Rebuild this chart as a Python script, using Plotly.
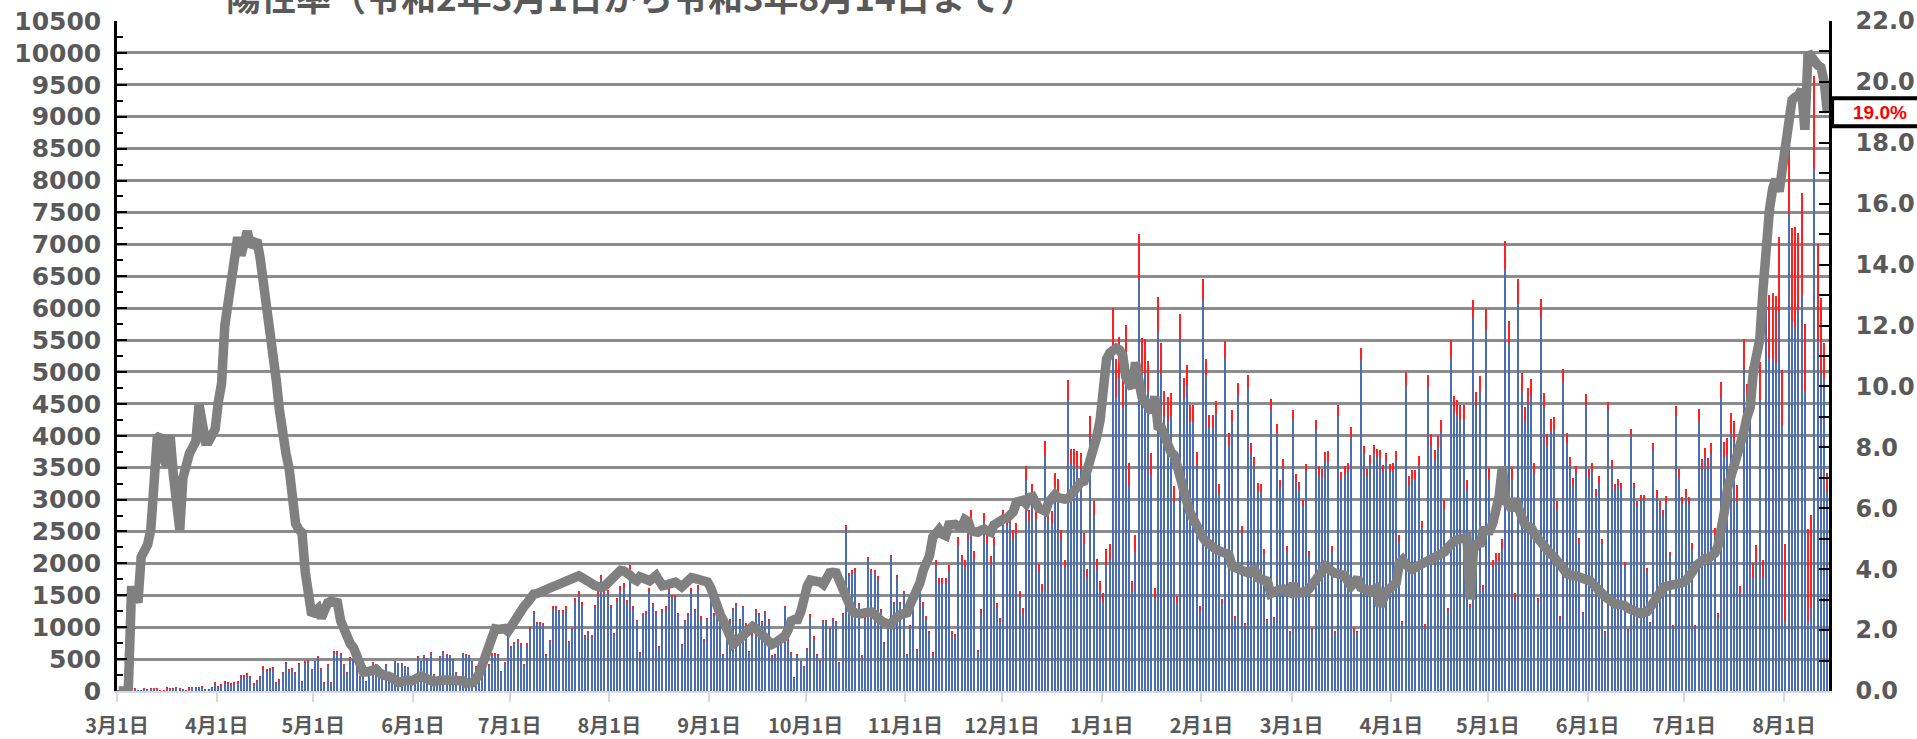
import pandas as pd
import plotly.graph_objects as go

# Daily PCR test counts (one row per week, Sunday to Saturday), from 2020-03-01
tests = [
    5, 20, 25, 15, 30, 35, 10,
    5, 40, 30, 45, 35, 40, 15,
    10, 50, 45, 40, 55, 45, 20,
    15, 50, 60, 55, 60, 65, 30,
    20, 60, 130, 78, 104, 156, 130,
    120, 140, 156, 245, 245, 286, 234,
    120, 172, 234, 390, 350, 365, 380,
    130, 182, 300, 453, 350, 365, 297,
    432, 156, 470, 485, 340, 470, 536,
    350, 130, 417, 140, 625, 625, 590,
    417, 286, 520, 495, 417, 234, 340,
    156, 312, 443, 417, 390, 286, 417,
    208, 182, 470, 432, 432, 390, 365,
    182, 234, 547, 470, 557, 505, 600,
    260, 208, 547, 625, 573, 557, 495,
    286, 182, 590, 568, 557, 470, 390,
    260, 286, 432, 417, 590, 580, 568,
    312, 453, 870, 703, 755, 807, 755,
    417, 755, 1005, 1250, 1078, 1078, 1068,
    573, 807, 1328, 1340, 1276, 1266, 1328,
    781, 990, 1460, 1560, 1400, 885, 940,
    885, 1350, 1560, 1820, 1580, 1590, 1350,
    910, 1460, 1640, 1690, 1430, 1980, 1330,
    1120, 610, 1220, 1250, 1610, 1380, 1260,
    710, 1280, 1330, 1610, 1510, 1510, 1230,
    740, 1120, 1220, 1610, 1290, 1660, 1170,
    810, 1150, 1560, 1220, 1170, 1300, 570,
    1120, 1120, 1300, 1370, 1120, 1330, 1070,
    625, 910, 1290, 1220, 1090, 1250, 1120,
    550, 570, 730, 885, 1330, 810, 610,
    210, 570, 470, 390, 680, 1200, 860,
    570, 480, 1120, 1120, 990, 1150, 1090,
    450, 1230, 2600, 1850, 1900, 1930, 1380,
    550, 1170, 2100, 1910, 1900, 1800, 1280,
    755, 1015, 2135, 1400, 1820, 1400, 1560,
    570, 1040, 1430, 660, 1640, 1400, 1170,
    940, 610, 2060, 1770, 1770, 1770, 1980,
    940, 900, 2420, 2135, 2060, 2500, 2840,
    2190, 650, 1280, 2790, 2450, 2110, 2420,
    1380, 1150, 2840, 2760, 2790, 2530, 2630,
    1560, 1300, 3520, 2840, 3250, 2870, 1985,
    1670, 3920, 2850, 2820, 3420, 3330, 2530,
    2060, 4870, 3800, 3800, 3760, 3730, 2480,
    1905, 4310, 2980, 2070, 1720, 1540, 2220,
    2310, 6000, 5200, 5550, 4990, 5730, 3580,
    1720, 2450, 7160, 5530, 5510, 5170, 3730,
    1620, 6170, 5450, 4700, 4600, 4670, 3210,
    1490, 5910, 4910, 5110, 4480, 4490, 3750,
    1330, 6460, 5200, 4330, 4330, 4550, 3240,
    1435, 5480, 4040, 4410, 1175, 4820, 2585,
    1070, 4945, 3880, 3670, 3260, 3240, 2230,
    1130, 4570, 1160, 4180, 3300, 3640, 2270,
    940, 4410, 3400, 3270, 2990, 3550, 2190,
    990, 4245, 3520, 3480, 3740, 3760, 2270,
    940, 4480, 3440, 3520, 3570, 4130, 980,
    940, 5370, 3840, 3480, 3700, 3860, 3790,
    3780, 3540, 3730, 3550, 3570, 3760, 2440,
    1100, 5000, 3370, 3460, 3470, 3690, 2660,
    1045, 4960, 4020, 3780, 3990, 4250, 2990,
    1305, 5500, 4620, 4555, 4490, 4490, 3310,
    1365, 6130, 4690, 4940, 1665, 5985, 3500,
    2050, 2170, 2170, 2385, 7060, 5800, 3510,
    1530, 6450, 4990, 4455, 4755, 4890, 3580,
    1465, 6150, 4670, 4030, 4265, 4300, 2975,
    1175, 5040, 4050, 3660, 3345, 3530, 2405,
    1245, 4655, 3480, 3580, 3165, 3365, 2385,
    945, 4535, 3615, 3245, 3325, 3260, 2020,
    975, 4105, 3260, 2975, 3065, 3065, 1935,
    1080, 3885, 3145, 2975, 2840, 3055, 2185,
    1030, 4470, 3480, 3045, 3160, 3045, 2320,
    1030, 4420, 3635, 3815, 3650, 3885, 2560,
    1215, 4840, 3905, 3970, 4355, 4230, 3225,
    1645, 5515, 4805, 5070, 2000, 2285, 5160,
    2050, 7290, 6200, 6235, 6185, 7110, 5025,
    2305, 8500, 7255, 7275, 7175, 7800, 5750,
    2540, 2755, 9640, 7005, 6165, 5450, 3415,
]

# Daily positive results (part of each day's tests)
positives = [
    0, 0, 0, 0, 1, 1, 0,
    0, 2, 1, 2, 2, 3, 1,
    1, 4, 4, 3, 3, 2, 1,
    1, 4, 5, 5, 6, 6, 2,
    2, 5, 11, 7, 11, 19, 17,
    16, 20, 23, 35, 37, 43, 34,
    18, 25, 33, 53, 44, 43, 41,
    13, 17, 25, 35, 26, 23, 16,
    23, 8, 18, 16, 9, 12, 14,
    8, 4, 12, 4, 18, 18, 14,
    8, 5, 8, 7, 5, 2, 2,
    1, 2, 3, 3, 2, 1, 2,
    1, 1, 2, 1, 1, 1, 1,
    1, 1, 2, 2, 2, 2, 2,
    1, 1, 2, 2, 2, 2, 2,
    1, 1, 2, 1, 1, 1, 2,
    1, 2, 5, 7, 12, 12, 11,
    6, 9, 17, 15, 18, 21, 20,
    12, 22, 31, 40, 34, 35, 35,
    19, 27, 46, 46, 45, 45, 48,
    28, 36, 54, 59, 52, 33, 34,
    31, 47, 53, 62, 54, 56, 50,
    34, 56, 65, 67, 56, 75, 49,
    41, 23, 45, 46, 58, 51, 48,
    26, 44, 46, 56, 53, 54, 43,
    25, 39, 44, 60, 48, 61, 42,
    29, 41, 53, 37, 32, 33, 13,
    23, 20, 20, 22, 19, 25, 21,
    13, 19, 26, 24, 20, 21, 18,
    8, 9, 12, 15, 24, 16, 14,
    5, 13, 12, 12, 23, 44, 31,
    21, 17, 39, 41, 38, 45, 42,
    16, 41, 81, 53, 50, 49, 35,
    14, 30, 54, 49, 48, 42, 29,
    17, 22, 47, 33, 45, 35, 40,
    15, 30, 44, 22, 58, 55, 50,
    42, 31, 107, 94, 91, 90, 108,
    51, 49, 131, 115, 116, 139, 149,
    114, 34, 68, 148, 129, 110, 132,
    77, 65, 160, 156, 160, 149, 163,
    97, 81, 216, 180, 207, 175, 119,
    99, 231, 177, 180, 221, 211, 159,
    130, 307, 245, 253, 254, 256, 171,
    137, 328, 237, 173, 153, 151, 242,
    256, 672, 586, 622, 551, 590, 362,
    171, 264, 712, 534, 523, 483, 341,
    157, 536, 471, 395, 368, 367, 249,
    109, 408, 319, 317, 262, 251, 201,
    69, 325, 255, 207, 204, 212, 149,
    65, 248, 181, 181, 48, 193, 102,
    42, 192, 153, 146, 121, 120, 82,
    41, 146, 38, 139, 110, 122, 75,
    30, 155, 109, 105, 96, 116, 74,
    34, 155, 134, 137, 153, 150, 89,
    36, 171, 131, 133, 129, 142, 35,
    35, 183, 128, 114, 121, 129, 128,
    105, 110, 122, 119, 123, 133, 102,
    47, 208, 136, 138, 141, 152, 111,
    44, 211, 173, 166, 179, 192, 136,
    61, 267, 227, 226, 224, 225, 167,
    41, 282, 230, 235, 88, 315, 184,
    113, 129, 139, 176, 441, 354, 209,
    97, 381, 285, 244, 257, 262, 184,
    73, 301, 222, 186, 192, 190, 128,
    49, 202, 156, 138, 126, 133, 89,
    46, 170, 127, 125, 107, 111, 76,
    29, 136, 106, 93, 95, 93, 57,
    27, 109, 85, 76, 78, 79, 51,
    30, 113, 97, 98, 97, 105, 76,
    36, 155, 122, 108, 114, 114, 90,
    42, 186, 157, 166, 159, 172, 116,
    58, 252, 230, 265, 305, 312, 248,
    132, 469, 432, 472, 210, 258, 596,
    271, 1086, 980, 1029, 1039, 1166, 859,
    1210, 1020, 1460, 1580, 1200, 1600, 1050,
    1445, 1458, 1460, 1510, 1175, 560, 300,
]

# Positivity rate (%), right axis
positivity = [
    0, 0, 0, 0, 3.3, 3.3, 2.9,
    4.4, 4.6, 4.8, 5.3, 6.9, 8.3, 8.4,
    7.6, 7.4, 8.4, 7.1, 6.2, 5.3, 7.0,
    7.5, 7.8, 8.0, 8.2, 9.4, 8.8, 8.2,
    8.2, 8.4, 8.6, 9.5, 10.1, 12.0, 12.8,
    13.6, 14.4, 14.9, 14.3, 14.9, 15.1, 14.6,
    14.7, 14.8, 14.2, 13.5, 12.6, 11.9, 10.9,
    10.2, 9.2, 8.2, 7.8, 7.3, 6.4, 5.5,
    5.3, 5.2, 3.9, 3.2, 2.5, 2.6, 2.7,
    2.4, 2.7, 2.9, 2.95, 2.95, 2.9, 2.3,
    2.0, 1.7, 1.55, 1.42, 1.1, 0.9, 0.62,
    0.62, 0.66, 0.68, 0.71, 0.6, 0.52, 0.5,
    0.48, 0.45, 0.36, 0.28, 0.32, 0.38, 0.36,
    0.33, 0.4, 0.45, 0.49, 0.44, 0.38, 0.3,
    0.3, 0.33, 0.36, 0.38, 0.37, 0.36, 0.37,
    0.38, 0.36, 0.33, 0.25, 0.22, 0.27, 0.4,
    0.55, 0.85, 1.2, 1.58, 1.95, 2.04, 2.02,
    2.05, 2.05, 1.96, 2.15, 2.35, 2.55, 2.68,
    2.78, 2.9, 3.12, 3.18, 3.2, 3.23, 3.28,
    3.34, 3.39, 3.43, 3.47, 3.52, 3.56, 3.61,
    3.62, 3.68, 3.72, 3.78, 3.72, 3.68, 3.6,
    3.53, 3.46, 3.39, 3.4, 3.44, 3.55, 3.68,
    3.76, 3.86, 3.96, 3.94, 3.9, 3.8, 3.68,
    3.62, 3.75, 3.72, 3.64, 3.62, 3.7, 3.79,
    3.62, 3.46, 3.48, 3.5, 3.54, 3.57, 3.5,
    3.42, 3.52, 3.62, 3.72, 3.7, 3.65, 3.63,
    3.62, 3.58, 3.39, 3.0, 2.7, 2.5, 2.3,
    2.05, 1.8, 1.55, 1.62, 1.74, 1.85, 1.96,
    2.05, 2.12, 2.05, 1.93, 1.8, 1.7, 1.62,
    1.53, 1.58, 1.64, 1.72, 1.8, 2.0, 2.3,
    2.35, 2.35, 2.6, 3.2, 3.45, 3.64, 3.64,
    3.64, 3.58, 3.5, 3.7, 3.88, 3.9, 3.88,
    3.62, 3.35, 3.1, 2.85, 2.62, 2.56, 2.51,
    2.54, 2.57, 2.58, 2.59, 2.5, 2.35, 2.3,
    2.24, 2.2, 2.19, 2.35, 2.46, 2.51, 2.54,
    2.57, 2.85, 3.05, 3.3, 3.55, 3.95, 4.25,
    4.45, 5.05, 5.2, 5.3, 5.15, 5.1, 5.45,
    5.47, 5.47, 5.4, 5.38, 5.63, 5.57, 5.25,
    5.22, 5.21, 5.28, 5.32, 5.25, 5.21, 5.45,
    5.55, 5.62, 5.65, 5.67, 5.75, 5.88, 6.2,
    6.24, 6.26, 6.15, 6.35, 6.38, 6.1, 6.0,
    5.95, 5.9, 6.2, 6.4, 6.45, 6.35, 6.28,
    6.3, 6.31, 6.45, 6.65, 6.75, 6.85, 6.89,
    7.2, 7.6, 7.95, 8.36, 8.9, 9.8, 10.9,
    11.1, 11.2, 11.26, 11.2, 11.04, 10.3, 10.1,
    9.95, 10.79, 9.95, 9.65, 9.5, 9.35, 9.15,
    9.67, 8.69, 8.65, 8.4, 8.0, 7.85, 7.75,
    7.3, 6.9, 6.5, 6.2, 5.85, 5.6, 5.36,
    5.2, 5.03, 4.9, 4.78, 4.7, 4.65, 4.6,
    4.56, 4.52, 4.48, 4.1, 4.05, 4.01, 3.96,
    3.9, 3.88, 3.95, 3.99, 3.72, 3.7, 3.67,
    3.6, 3.2, 3.26, 3.33, 3.34, 3.35, 3.3,
    3.24, 3.52, 3.22, 3.22, 3.22, 3.28, 3.36,
    3.48, 3.66, 3.8, 3.93, 4.1, 3.98, 3.93,
    3.87, 3.82, 3.8, 3.79, 3.6, 3.44, 3.55,
    3.72, 3.4, 3.33, 3.28, 3.27, 3.33, 3.38,
    2.78, 3.1, 3.27, 3.36, 3.44, 3.55, 4.2,
    4.31, 4.15, 4.05, 3.99, 4.06, 4.12, 4.17,
    4.21, 4.26, 4.31, 4.4, 4.48, 4.52, 4.56,
    4.7, 4.85, 4.92, 4.97, 4.98, 5.02, 5.05,
    3.01, 4.6, 4.9, 4.76, 5.26, 5.26, 5.26,
    5.5, 5.96, 6.4, 7.37, 6.24, 6.1, 5.96,
    6.31, 5.9, 5.72, 5.47, 5.4, 5.35, 5.15,
    5.0, 4.9, 4.75, 4.62, 4.5, 4.41, 4.3,
    4.18, 4.0, 3.85, 3.78, 3.78, 3.78, 3.72,
    3.68, 3.66, 3.64, 3.5, 3.38, 3.29, 3.2,
    3.1, 3.0, 2.92, 2.86, 2.85, 2.84, 2.8,
    2.72, 2.66, 2.6, 2.56, 2.54, 2.58, 2.61,
    2.75, 2.9, 3.1, 3.3, 3.4, 3.44, 3.46,
    3.46, 3.46, 3.5, 3.56, 3.62, 3.74, 3.9,
    4.1, 4.2, 4.33, 4.35, 4.35, 4.42, 4.52,
    4.75, 5.2, 5.9, 6.67, 7.0, 7.37, 7.7,
    8.05, 8.5, 8.99, 9.3, 10.5, 11.3, 11.55,
    13.2, 14.9, 15.8, 16.5, 16.8, 16.4, 17.1,
    17.9, 18.7, 19.4, 19.5, 19.56, 19.75, 18.43,
    20.97, 20.8, 20.69, 20.55, 20.48, 20.0, 19.0,
]

month_starts = [
    "2020-03-01", "2020-04-01", "2020-05-01", "2020-06-01", "2020-07-01",
    "2020-08-01", "2020-09-01", "2020-10-01", "2020-11-01", "2020-12-01",
    "2021-01-01", "2021-02-01", "2021-03-01", "2021-04-01", "2021-05-01",
    "2021-06-01", "2021-07-01", "2021-08-01",
]
tick_labels = [
    "3月1日", "4月1日", "5月1日", "6月1日", "7月1日", "8月1日", "9月1日",
    "10月1日", "11月1日", "12月1日", "1月1日", "2月1日", "3月1日", "4月1日",
    "5月1日", "6月1日", "7月1日", "8月1日",
]
title_text = "陽性率（令和2年3月1日から令和3年8月14日まで）"

dates = pd.date_range("2020-03-01", periods=len(tests), freq="D")
negatives = [t - p for t, p in zip(tests, positives)]
half_day = pd.Timedelta(hours=12)
tick_positions = [pd.Timestamp(d) - half_day for d in month_starts]
day_ms = 86400000

GRAY_TEXT = "#595959"
left_font = dict(family="DejaVu Sans", size=25, color=GRAY_TEXT, weight="bold")
right_font = dict(family="DejaVu Sans", size=24, color=GRAY_TEXT, weight="bold")

fig = go.Figure()
fig.add_trace(go.Bar(
    x=dates, y=negatives, width=0.4 * day_ms,
    marker=dict(color="#4A6DB4", line=dict(width=0)),
    name="陰性",
))
fig.add_trace(go.Bar(
    x=dates, y=positives[:len(dates)], width=0.4 * day_ms,
    marker=dict(color="#FF2020", line=dict(width=0)),
    name="陽性",
))
fig.add_trace(go.Scatter(
    x=dates[:len(positivity)], y=positivity, yaxis="y2", mode="lines",
    line=dict(color="#808080", width=9.5),
    name="陽性率",
))

# Callout box with the latest positivity value on the right axis
last_rate = positivity[-1]
fig.add_shape(
    type="rect", xref="paper", yref="y2",
    x0=1.0018, x1=1.2, y0=last_rate - 0.46, y1=last_rate + 0.46,
    line=dict(color="black", width=4), fillcolor="white", layer="above",
)
fig.add_annotation(
    xref="paper", yref="y2", x=1.0298, y=last_rate,
    xanchor="center", yanchor="middle",
    text=f"{last_rate:.1f}%", showarrow=False,
    font=dict(family="Liberation Sans", size=19, color="#FF0000", weight="bold"),
)
fig.add_annotation(
    xref="paper", yref="paper", x=0.3002, y=1.0388,
    xanchor="center", yanchor="middle",
    text=title_text, showarrow=False,
    font=dict(family="Noto Sans CJK JP", size=35, color=GRAY_TEXT, weight="bold"),
)

fig.update_layout(
    width=1917, height=739,
    margin=dict(l=117, r=88, t=21, b=48, autoexpand=False),
    paper_bgcolor="white", plot_bgcolor="white",
    barmode="stack", bargap=0, showlegend=False,
    xaxis=dict(
        type="date", automargin=False,
        range=[pd.Timestamp("2020-03-01") - half_day, dates[-1] + half_day],
        tickmode="array", tickvals=tick_positions, ticktext=tick_labels,
        ticks="outside", ticklen=9, tickwidth=2, tickcolor="#D9D9D9",
        showline=True, linecolor="#D9D9D9", linewidth=2,
        showgrid=False, zeroline=False,
        tickfont=dict(family="Noto Sans CJK JP", size=20, color=GRAY_TEXT, weight="bold"),
        ticklabelstandoff=7,
    ),
    yaxis=dict(
        range=[0, 10500], tick0=0, dtick=500, tickformat="d", automargin=False,
        showgrid=True, gridcolor="#8C8C8C", gridwidth=2.5,
        showline=True, linecolor="black", linewidth=2.5,
        ticks="inside", ticklen=10, tickwidth=2, tickcolor="black",
        minor=dict(tick0=0, dtick=250, ticks="inside", ticklen=6,
                   tickwidth=2, tickcolor="black", showgrid=False),
        zeroline=False, tickfont=left_font, ticklabelstandoff=8,
    ),
    yaxis2=dict(
        overlaying="y", side="right", automargin=False,
        range=[0, 22], tick0=0, dtick=2, tickformat=".1f",
        showgrid=False, zeroline=False,
        showline=True, linecolor="black", linewidth=2.5,
        ticks="inside", ticklen=10, tickwidth=2, tickcolor="black",
        minor=dict(tick0=0, dtick=1, ticks="inside", ticklen=10,
                   tickwidth=2, tickcolor="black", showgrid=False),
        tickfont=right_font, ticklabelstandoff=19,
    ),
)

fig.write_html("out.html")
